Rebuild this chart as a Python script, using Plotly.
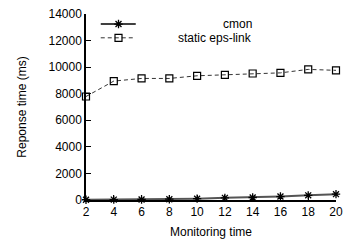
import plotly.graph_objects as go

monitoring_time = [2, 4, 6, 8, 10, 12, 14, 16, 18, 20]
cmon = [20, 30, 40, 60, 100, 160, 190, 260, 350, 440]
static_eps_link = [7790, 8950, 9150, 9150, 9350, 9420, 9520, 9570, 9830, 9760]
x_ticks = [2, 4, 6, 8, 10, 12, 14, 16, 18, 20]
y_ticks = [0, 2000, 4000, 6000, 8000, 10000, 12000, 14000]
series_names = ["cmon", "static eps-link"]

FONT = "Liberation Sans, Arial, sans-serif"
FS = 12

fig = go.Figure()
fig.add_trace(go.Scatter(
    x=monitoring_time, y=cmon, mode="lines+markers", name=series_names[0],
    line=dict(color="#555555", width=2),
    marker=dict(symbol="asterisk-open", size=7, color="black", line=dict(color="black", width=1.3)),
    showlegend=False, cliponaxis=False))
fig.add_trace(go.Scatter(
    x=monitoring_time, y=static_eps_link, mode="lines+markers", name=series_names[1],
    line=dict(color="#333333", width=1, dash="4px,3px"),
    marker=dict(symbol="square-open", size=7, color="black", line=dict(color="black", width=1.2)),
    showlegend=False, cliponaxis=False))

# legend samples on an overlay axis (fractions of plot area)
leg_x = [0.059, 0.13, 0.199]
leg_line_y = [0.946, 0.872]
leg_text_y = [0.944, 0.872]
fig.add_trace(go.Scatter(
    x=leg_x, y=[leg_line_y[0]] * 3, xaxis="x2", yaxis="y2", mode="lines+markers",
    line=dict(color="black", width=1.5),
    marker=dict(symbol="asterisk-open", size=7, color="black",
                line=dict(color="black", width=1.3)),
    selectedpoints=[1], selected=dict(marker=dict(opacity=1)), unselected=dict(marker=dict(opacity=0)),
    showlegend=False, hoverinfo="skip", cliponaxis=False))
fig.add_trace(go.Scatter(
    x=leg_x, y=[leg_line_y[1]] * 3, xaxis="x2", yaxis="y2", mode="lines+markers",
    line=dict(color="#333333", width=1, dash="4px,3px"),
    marker=dict(symbol="square-open", size=7, color="black", line=dict(color="black", width=1.2)),
    selectedpoints=[1], selected=dict(marker=dict(opacity=1)), unselected=dict(marker=dict(opacity=0)),
    showlegend=False, hoverinfo="skip", cliponaxis=False))

for name, yy in zip(series_names, leg_text_y):
    fig.add_annotation(text=name, xref="paper", yref="paper", x=0.673, y=yy,
                       xanchor="right", yanchor="middle", showarrow=False,
                       font=dict(family=FONT, size=FS, color="black"))

fig.update_layout(
    width=350, height=247,
    margin=dict(l=86, r=10, t=7, b=47),
    paper_bgcolor="white", plot_bgcolor="white",
    font=dict(family=FONT, size=FS, color="black"),
    xaxis=dict(range=[2, 20], tickvals=x_ticks, ticks="inside", ticklen=5, tickwidth=1,
               tickcolor="black", showline=True, linecolor="black", linewidth=1.5,
               showgrid=False, zeroline=False,
               title=dict(text="Monitoring time", font=dict(size=FS), standoff=9)),
    yaxis=dict(range=[0, 14000], tickvals=y_ticks, tickformat="d", ticks="inside", ticklen=5, tickwidth=1,
               tickcolor="black", showline=True, linecolor="black", linewidth=1.5,
               showgrid=False, zeroline=False,
               title=dict(text="Reponse time (ms)", font=dict(size=FS), standoff=19)),
    xaxis2=dict(overlaying="x", range=[0, 1], visible=False),
    yaxis2=dict(overlaying="y", range=[0, 1], visible=False),
)

fig.write_html("out.html", config={"displayModeBar": False},
               post_script="document.body.style.margin='0';document.body.style.overflow='hidden';")
